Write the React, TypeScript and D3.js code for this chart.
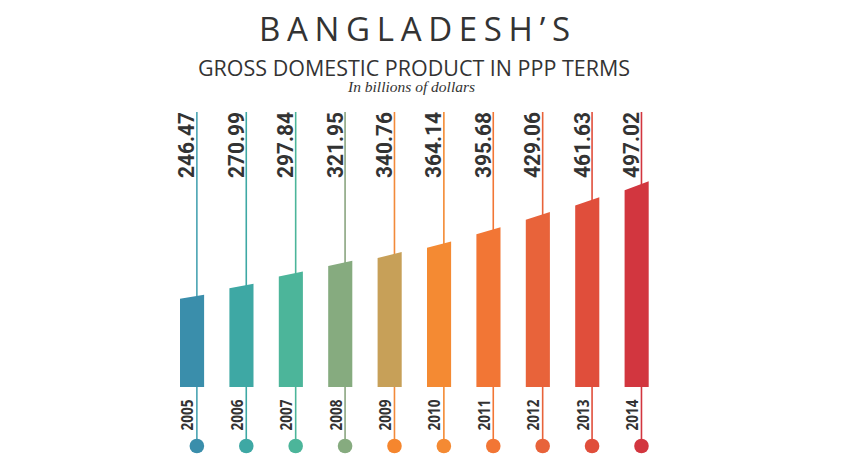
import React from "react";
import * as d3 from "d3";

const years = ["2005", "2006", "2007", "2008", "2009", "2010", "2011", "2012", "2013", "2014"];
const values = [246.47, 270.99, 297.84, 321.95, 340.76, 364.14, 395.68, 429.06, 461.63, 497.02];
const valueLabels = ["246.47", "270.99", "297.84", "321.95", "340.76", "364.14", "395.68", "429.06", "461.63", "497.02"];
const barColors = ["#3a8eab", "#3ea8a4", "#4cb59a", "#86ab7f", "#c7a058", "#f48a33", "#f27635", "#e8633a", "#e04e3b", "#d2363f"];
const lineColors = ["#48a3b2", "#3ea8a4", "#4cb59a", "#8aa580", "#f28a3a", "#f48a33", "#f27635", "#e8633a", "#e04e3b", "#d2363f"];
const dotColors = ["#3a8eab", "#3ea8a4", "#4cb59a", "#86ab7f", "#f5862e", "#f48a33", "#f27635", "#e8633a", "#e04e3b", "#d2363f"];

const title = "BANGLADESH’S";
const subtitle = "GROSS DOMESTIC PRODUCT IN PPP TERMS";
const note = "In billions of dollars";

const W = 842;
const H = 474;

export default function App() {
  const x = d3.scaleBand<string>().domain(years).range([180, 648.7]).paddingInner(0.512).paddingOuter(0);
  const y = d3.scaleLinear().domain([43, 497.02]).range([387, 184]);
  const bw = x.bandwidth();
  const y0 = y(43);
  const lineTop = 112;
  const dotY = 446;

  return (
    <svg width={W} height={H} style={{ position: "absolute", left: 0, top: 0, background: "#fff" }}>
      <text x={414.5} y={40.7} textAnchor="middle" fontFamily="'Open Sans', sans-serif" fontWeight={400}
        fontSize={33} fill="#333" textLength={311} lengthAdjust="spacing">{title}</text>
      <text x={414} y={76} textAnchor="middle" fontFamily="'Open Sans', sans-serif" fontWeight={400}
        fontSize={22} fill="#333" textLength={432} lengthAdjust="spacingAndGlyphs">{subtitle}</text>
      <text x={411.5} y={91.5} textAnchor="middle" fontFamily="'Liberation Serif', serif" fontStyle="italic"
        fontSize={15.5} fill="#333">{note}</text>
      {years.map((yr, i) => {
        const bx = x(yr)!;
        const lx = bx + bw * 0.7;
        const v = values[i];
        const top = y(v);
        const slant = (y0 - top) * 0.044;
        const s = slant / bw;
        const tl = top + s * bw * 0.7;
        const tr = top - s * bw * 0.3;
        const pts = [[bx, y0], [bx, tl], [bx + bw, tr], [bx + bw, y0]].map((p) => p.join(",")).join(" ");
        return (
          <g key={yr}>
            <line x1={lx} x2={lx} y1={lineTop} y2={dotY} stroke={lineColors[i]} strokeWidth={1.6} />
            <polygon points={pts} fill={barColors[i]} />
            <circle cx={lx} cy={dotY} r={7.3} fill={dotColors[i]} />
            <text transform={`translate(${lx - 2.5},${lineTop}) rotate(-90)`} textAnchor="end"
              fontFamily="Roboto, sans-serif" fontWeight={700} fontSize={22} fill="#333"
              textLength={66} lengthAdjust="spacingAndGlyphs">{valueLabels[i]}</text>
            <text transform={`translate(${lx - 3.5},415) rotate(-90)`} textAnchor="middle"
              fontFamily="'Open Sans', sans-serif" fontWeight={700} fontSize={16} fill="#333"
              textLength={31} lengthAdjust="spacingAndGlyphs">{yr}</text>
          </g>
        );
      })}
    </svg>
  );
}
